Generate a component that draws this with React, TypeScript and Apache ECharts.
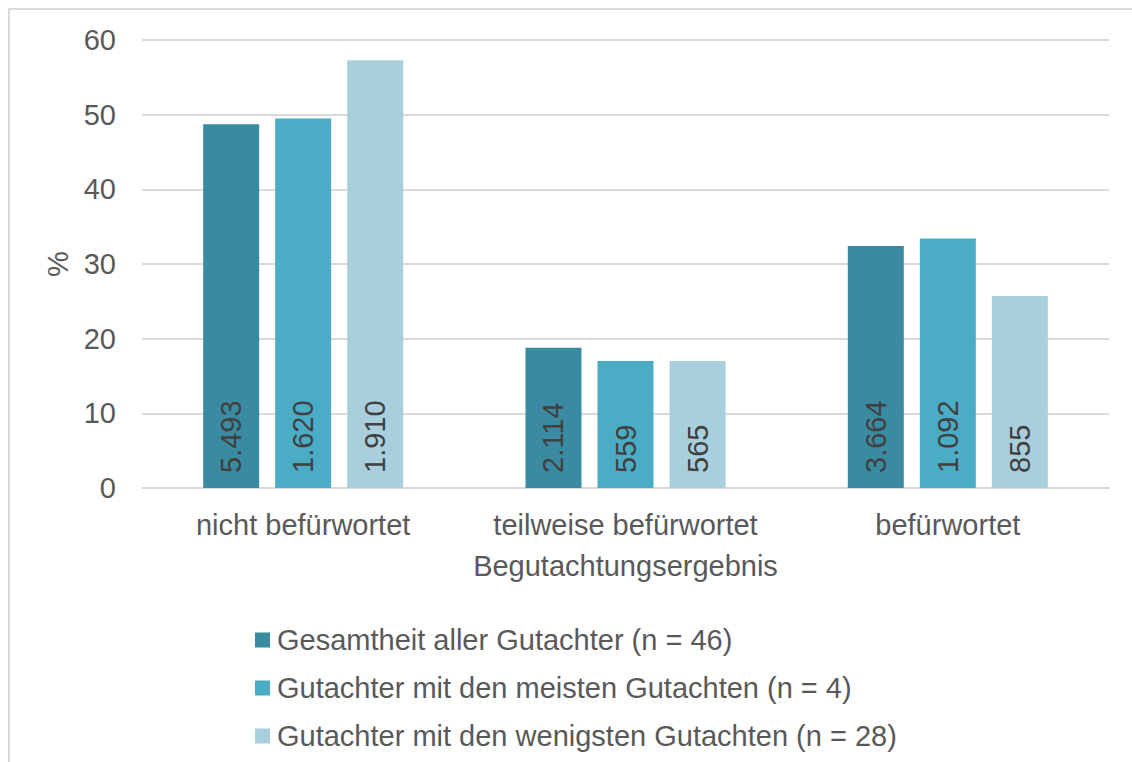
import React, { useEffect, useRef } from "react";
import * as echarts from "echarts";

const categories = ["nicht befürwortet", "teilweise befürwortet", "befürwortet"];
const seriesNames = [
  "Gesamtheit aller Gutachter (n = 46)",
  "Gutachter mit den meisten Gutachten (n = 4)",
  "Gutachter mit den wenigsten Gutachten (n = 28)",
];
const percentAll = [48.7, 18.8, 32.4];
const percentMost = [49.5, 17.0, 33.4];
const percentFew = [57.3, 17.0, 25.7];
const countsAll = ["5.493", "2.114", "3.664"];
const countsMost = ["1.620", "559", "1.092"];
const countsFew = ["1.910", "565", "855"];
const colors = ["#3A8BA2", "#4BACC6", "#A9CFDD"];
const FONT = "'Liberation Sans', Arial, sans-serif";
const FS = 29;

export default function App() {
  const ref = useRef<HTMLDivElement>(null);
  useEffect(() => {
    if (!ref.current) return;
    const chart = echarts.init(ref.current, undefined, { renderer: "svg" });
    const values = [percentAll, percentMost, percentFew];
    const counts = [countsAll, countsMost, countsFew];
    chart.setOption({
      animation: false,
      textStyle: { fontFamily: FONT },
      graphic: [
        {
          type: "rect",
          shape: { x: 9, y: 9, width: 1200, height: 800 },
          style: { fill: "none", stroke: "#d9d9d9", lineWidth: 2 },
          silent: true,
        },
      ],
      grid: { left: 142, right: 23, top: 40, bottom: 274, containLabel: false },
      legend: {
        orient: "vertical",
        left: 250,
        top: 620,
        itemWidth: 15,
        itemHeight: 15,
        itemGap: 18,
        icon: "rect",
        data: seriesNames,
        textStyle: { fontSize: FS, color: "#595959", fontFamily: FONT, lineHeight: 30, padding: [0, 0, 0, 2] },
      },
      xAxis: {
        type: "category",
        data: categories,
        name: "Begutachtungsergebnis",
        nameLocation: "middle",
        nameGap: 63,
        nameTextStyle: { fontSize: FS, color: "#595959", fontFamily: FONT },
        axisLine: { lineStyle: { color: "#d9d9d9", width: 2 } },
        axisTick: { show: false },
        axisLabel: { fontSize: FS, color: "#595959", margin: 22, fontFamily: FONT, interval: 0, hideOverlap: false },
      },
      yAxis: {
        type: "value",
        min: 0,
        max: 60,
        interval: 10,
        name: "%",
        nameLocation: "middle",
        nameGap: 69,
        nameRotate: 90,
        nameTextStyle: { fontSize: FS, color: "#595959", fontFamily: FONT },
        axisLine: { show: false },
        axisTick: { show: false },
        axisLabel: { fontSize: FS, color: "#595959", margin: 26, fontFamily: FONT },
        splitLine: { lineStyle: { color: "#d9d9d9", width: 2 } },
      },
      series: seriesNames.map((name, i) => ({
        name,
        type: "bar",
        barWidth: 56,
        barGap: "28.6%",
        itemStyle: { color: colors[i] },
        data: values[i],
        label: {
          show: true,
          position: "insideBottom",
          rotate: 90,
          align: "left",
          verticalAlign: "middle",
          distance: 15,
          fontSize: FS,
          color: "#404040",
          fontFamily: FONT,
          formatter: (p: any) => counts[i][p.dataIndex],
        },
      })),
    });
    return () => chart.dispose();
  }, []);
  return <div ref={ref} style={{ width: 1132, height: 762, position: "absolute", left: 0, top: 0 }} />;
}
